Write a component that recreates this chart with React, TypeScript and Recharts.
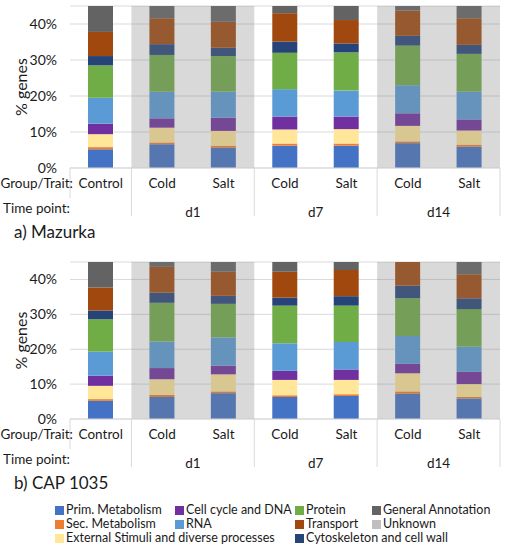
import { Bar, BarChart, CartesianGrid, ReferenceArea, XAxis, YAxis } from "recharts";

// x-axis table: treatment per bar, time point per bar
const categories = ["Control", "Cold", "Salt", "Cold", "Salt", "Cold", "Salt"];
const timePoints = ["", "d1", "d1", "d7", "d7", "d14", "d14"];
const shadedTimePoints = ["d1", "d14"];
const yTicks = [0, 10, 20, 30, 40];

const seriesKeys = ["prim", "sec", "ext", "cell", "rna", "protein", "cyto", "transport", "general", "unknown"];
const seriesNames = [
  "Prim. Metabolism",
  "Sec. Metabolism",
  "External Stimuli and diverse processes",
  "Cell cycle and DNA",
  "RNA",
  "Protein",
  "Cytoskeleton and cell wall",
  "Transport",
  "General Annotation",
  "Unknown",
];
const seriesColors = [
  "#4472c4",
  "#ed7d31",
  "#ffe699",
  "#7030a0",
  "#5b9bd5",
  "#70ad47",
  "#264478",
  "#a0480e",
  "#636363",
  "#bfbfbf",
];
// legend reading order, column by column (null = empty cell)
const legendOrder = ["prim", "sec", "ext", "cell", "rna", null, "protein", "transport", "cyto", "general", "unknown"];

// % genes, one row per series (same order as seriesKeys), one value per bar
const mazurkaValues = [
  [5.2, 6.6, 5.6, 6.2, 6.2, 6.9, 5.9],
  [0.6, 0.5, 0.6, 0.6, 0.6, 0.5, 0.6],
  [3.6, 4.1, 4.1, 3.9, 4.0, 4.3, 3.9],
  [2.9, 2.6, 3.7, 3.6, 3.5, 3.5, 3.1],
  [7.2, 7.4, 7.2, 7.6, 7.2, 7.8, 7.7],
  [9.0, 10.2, 9.9, 10.1, 10.6, 11.0, 10.5],
  [2.6, 3.0, 2.3, 3.1, 2.5, 2.7, 2.5],
  [6.7, 7.2, 7.2, 7.9, 6.5, 7.0, 7.4],
  [9.5, 8.0, 8.0, 7.5, 8.0, 8.0, 8.0],
  [52, 50, 51, 50, 51, 48, 50],
];
const capValues = [
  [5.2, 6.3, 7.4, 6.3, 6.6, 7.2, 5.9],
  [0.5, 0.6, 0.5, 0.5, 0.5, 0.7, 0.4],
  [3.8, 4.5, 4.9, 4.4, 4.1, 5.2, 3.7],
  [2.9, 3.2, 2.5, 2.6, 3.0, 2.7, 3.5],
  [6.9, 7.6, 8.1, 7.9, 7.9, 8.0, 7.2],
  [9.3, 11.1, 9.6, 10.8, 10.4, 10.8, 10.8],
  [2.5, 2.9, 2.3, 2.3, 2.7, 3.6, 3.1],
  [6.6, 7.4, 6.9, 7.4, 7.5, 7.5, 6.9],
  [9.0, 8.0, 8.0, 7.5, 8.0, 6.0, 8.0],
  [53, 48, 50, 50, 49, 48, 51],
];

const FONT = "Lato, 'Open Sans', sans-serif";
const TEXT = "#1a1a1a";
const LINE = "#d9d9d9";
const CHART_W = 510;
const MARGIN = { top: 6, right: 10, left: 8, bottom: 0 };
const YAXIS_W = 62;
const XAXIS_H = 52;
const PLOT_W = CHART_W - MARGIN.left - MARGIN.right - YAXIS_W;
const BAND = PLOT_W / categories.length;

function buildRows(values: number[][]) {
  return categories.map((name, i) => {
    const row: Record<string, string | number> = { key: `c${i}`, name };
    seriesKeys.forEach((k, s) => {
      row[k] = values[s][i];
    });
    return row;
  });
}

function TableTick({ x, y, payload }: any) {
  const i = payload.index;
  const left = x - BAND / 2;
  const tp = timePoints[i];
  const groupStart = i === 0 || tp !== timePoints[i - 1];
  let span = 1;
  while (i + span < timePoints.length && timePoints[i + span] === tp) span++;
  const txt = { fill: TEXT, fontFamily: FONT, fontSize: 13.5, dominantBaseline: "central" as const };
  return (
    <g>
      <text x={x} y={y + 15} textAnchor="middle" {...txt}>
        {categories[i]}
      </text>
      {groupStart && tp && (
        <text x={left + (span * BAND) / 2} y={y + 44} textAnchor="middle" {...txt}>
          {tp}
        </text>
      )}
      {groupStart && i > 0 && <line x1={left} x2={left} y1={y} y2={y + 48} stroke={LINE} />}
      {i === categories.length - 1 && (
        <line x1={left + BAND} x2={left + BAND} y1={y} y2={y + 48} stroke={LINE} />
      )}
      {i === 0 && (
        <>
          <line x1={left} x2={left} y1={y} y2={y + 30} stroke={LINE} />
          <text x={left + 3} y={y + 15} textAnchor="end" {...txt}>
            Group/Trait:
          </text>
          <text x={left} y={y + 40} textAnchor="end" {...txt}>
            Time point:
          </text>
        </>
      )}
    </g>
  );
}

function YLabel({ viewBox }: any) {
  const cx = 20;
  const cy = viewBox.y + viewBox.height / 2;
  return (
    <text
      x={cx}
      y={cy}
      transform={`rotate(-90 ${cx} ${cy})`}
      textAnchor="middle"
      dominantBaseline="central"
      fill={TEXT}
      fontFamily={FONT}
      fontSize={16}
    >
      % genes
    </text>
  );
}

function StackChart({ values, plotHeight }: { values: number[][]; plotHeight: number }) {
  const rows = buildRows(values);
  const shaded = shadedTimePoints.map((tp) => {
    const first = timePoints.indexOf(tp);
    const last = timePoints.lastIndexOf(tp);
    return { tp, x1: `c${first}`, x2: `c${last}` };
  });
  return (
    <BarChart
      width={CHART_W}
      height={MARGIN.top + plotHeight + XAXIS_H}
      data={rows}
      margin={MARGIN}
      barCategoryGap={0}
    >
      <CartesianGrid vertical={false} stroke={LINE} />
      <XAxis
        dataKey="key"
        height={XAXIS_H}
        interval={0}
        tickSize={0}
        tickMargin={0}
        tickLine={false}
        axisLine={{ stroke: LINE }}
        tick={<TableTick />}
      />
      <YAxis
        width={YAXIS_W}
        domain={[0, 45]}
        allowDataOverflow
        ticks={yTicks}
        tickFormatter={(v) => `${v}%`}
        axisLine={false}
        tickLine={false}
        tickSize={0}
        tickMargin={13}
        tick={{ fill: TEXT, fontFamily: FONT, fontSize: 14 }}
        label={<YLabel />}
      />
      {seriesKeys.map((k, s) => (
        <Bar
          key={k}
          dataKey={k}
          name={seriesNames[s]}
          stackId="genes"
          fill={seriesColors[s]}
          barSize={25}
          isAnimationActive={false}
        />
      ))}
      {shaded.map((a) => (
        <ReferenceArea
          key={a.tp}
          x1={a.x1}
          x2={a.x2}
          fill="#808080"
          fillOpacity={0.3}
          stroke="none"
          zIndex={400}
        />
      ))}
    </BarChart>
  );
}

function Legend() {
  return (
    <div
      style={{
        position: "absolute",
        left: 55,
        top: 503,
        display: "grid",
        gridTemplateColumns: "120px 120px 77px 130px",
        gridTemplateRows: "repeat(3, 14px)",
        gridAutoFlow: "column",
        fontFamily: FONT,
        fontSize: 12.5,
        color: TEXT,
      }}
    >
      {legendOrder.map((k, i) => {
        if (!k) return <div key={`empty${i}`} />;
        const s = seriesKeys.indexOf(k);
        return (
          <div key={k} style={{ display: "flex", alignItems: "center", whiteSpace: "nowrap", lineHeight: "14px" }}>
            <span style={{ width: 9, height: 9, background: seriesColors[s], marginRight: 2, flex: "none" }} />
            {seriesNames[s]}
          </div>
        );
      })}
    </div>
  );
}

const titleStyle = {
  position: "absolute" as const,
  left: 14,
  fontFamily: FONT,
  fontSize: 17,
  lineHeight: "20px",
  color: TEXT,
};

export default function App() {
  return (
    <div style={{ position: "absolute", left: 0, top: 0, width: 510, height: 550, background: "#fff" }}>
      <div style={{ position: "absolute", left: 0, top: 0 }}>
        <StackChart values={mazurkaValues} plotHeight={162} />
      </div>
      <div style={{ ...titleStyle, top: 222 }}>a) Mazurka</div>
      <div style={{ position: "absolute", left: 0, top: 256 }}>
        <StackChart values={capValues} plotHeight={157} />
      </div>
      <div style={{ ...titleStyle, top: 473 }}>b) CAP 1035</div>
      <Legend />
    </div>
  );
}
